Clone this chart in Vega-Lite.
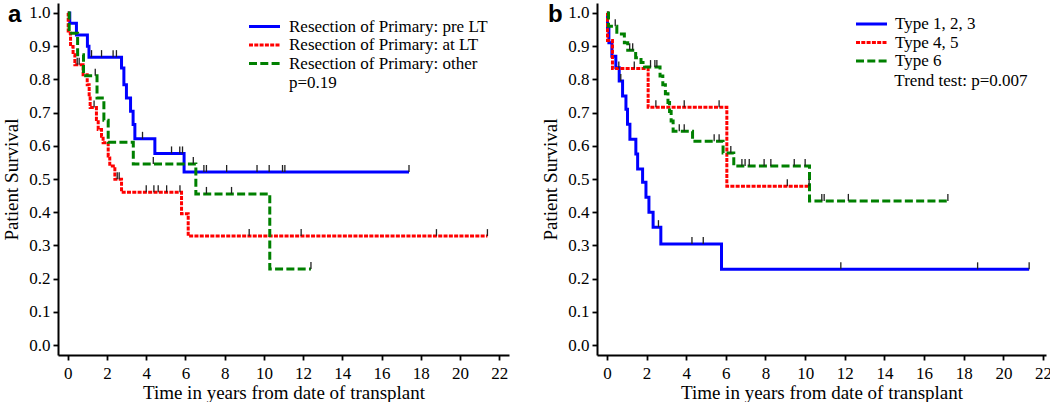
{
  "$schema": "https://vega.github.io/schema/vega-lite/v6.json",
  "padding": {"left": 2, "top": 2, "right": 0, "bottom": 0},
  "background": "white",
  "spacing": 88,
  "bounds": "flush",
  "config": {
    "font": "Liberation Serif",
    "view": {"stroke": null},
    "axis": {
      "grid": false,
      "domainColor": "black",
      "domainWidth": 2,
      "tickColor": "black",
      "tickWidth": 1.8,
      "tickSize": 5,
      "labelFont": "Liberation Serif",
      "labelFontSize": 17,
      "labelColor": "black",
      "labelPadding": 3,
      "labelOverlap": false,
      "titleFont": "Liberation Serif",
      "titleFontSize": 19,
      "titleFontWeight": "normal",
      "titleColor": "black"
    },
    "axisY": {"titlePadding": 7},
    "axisX": {"titlePadding": 2, "labelPadding": 5},
    "legend": {
      "labelFont": "Liberation Serif",
      "labelFontSize": 17,
      "labelColor": "black",
      "labelLimit": 400,
      "symbolType": "M-3.1,0H3.1",
      "symbolStrokeWidth": 3,
      "symbolSize": 100,
      "labelOffset": 16,
      "rowPadding": 0.5,
      "padding": 0
    }
  },
  "resolve": {"scale": {"color": "independent", "strokeDash": "independent", "x": "independent", "y": "independent"}},
  "datasets": {
    "a": [
      {"g": "Resection of Primary: pre LT", "t": 0, "s": 1, "c": 0},
      {"g": "Resection of Primary: pre LT", "t": 0.1, "s": 0.969, "c": 0},
      {"g": "Resection of Primary: pre LT", "t": 0.44, "s": 0.934, "c": 0},
      {"g": "Resection of Primary: pre LT", "t": 1.0, "s": 0.9, "c": 0},
      {"g": "Resection of Primary: pre LT", "t": 1.08, "s": 0.867, "c": 0},
      {"g": "Resection of Primary: pre LT", "t": 1.21, "s": 0.867, "c": 1},
      {"g": "Resection of Primary: pre LT", "t": 1.72, "s": 0.867, "c": 1},
      {"g": "Resection of Primary: pre LT", "t": 2.31, "s": 0.867, "c": 1},
      {"g": "Resection of Primary: pre LT", "t": 2.48, "s": 0.867, "c": 1},
      {"g": "Resection of Primary: pre LT", "t": 2.74, "s": 0.834, "c": 0},
      {"g": "Resection of Primary: pre LT", "t": 2.86, "s": 0.784, "c": 0},
      {"g": "Resection of Primary: pre LT", "t": 2.99, "s": 0.744, "c": 0},
      {"g": "Resection of Primary: pre LT", "t": 3.2, "s": 0.704, "c": 0},
      {"g": "Resection of Primary: pre LT", "t": 3.33, "s": 0.664, "c": 0},
      {"g": "Resection of Primary: pre LT", "t": 3.42, "s": 0.621, "c": 0},
      {"g": "Resection of Primary: pre LT", "t": 3.81, "s": 0.621, "c": 1},
      {"g": "Resection of Primary: pre LT", "t": 4.44, "s": 0.577, "c": 0},
      {"g": "Resection of Primary: pre LT", "t": 5.29, "s": 0.577, "c": 1},
      {"g": "Resection of Primary: pre LT", "t": 5.71, "s": 0.577, "c": 1},
      {"g": "Resection of Primary: pre LT", "t": 5.85, "s": 0.577, "c": 1},
      {"g": "Resection of Primary: pre LT", "t": 5.93, "s": 0.521, "c": 0},
      {"g": "Resection of Primary: pre LT", "t": 6.94, "s": 0.521, "c": 1},
      {"g": "Resection of Primary: pre LT", "t": 7.07, "s": 0.521, "c": 1},
      {"g": "Resection of Primary: pre LT", "t": 8.1, "s": 0.521, "c": 1},
      {"g": "Resection of Primary: pre LT", "t": 9.65, "s": 0.521, "c": 1},
      {"g": "Resection of Primary: pre LT", "t": 10.27, "s": 0.521, "c": 1},
      {"g": "Resection of Primary: pre LT", "t": 10.95, "s": 0.521, "c": 1},
      {"g": "Resection of Primary: pre LT", "t": 11.07, "s": 0.521, "c": 1},
      {"g": "Resection of Primary: pre LT", "t": 17.4, "s": 0.521, "c": 1},
      {"g": "Resection of Primary: at LT", "t": 0, "s": 1, "c": 0},
      {"g": "Resection of Primary: at LT", "t": 0.02, "s": 0.939, "c": 0},
      {"g": "Resection of Primary: at LT", "t": 0.14, "s": 0.899, "c": 0},
      {"g": "Resection of Primary: at LT", "t": 0.27, "s": 0.874, "c": 0},
      {"g": "Resection of Primary: at LT", "t": 0.36, "s": 0.844, "c": 0},
      {"g": "Resection of Primary: at LT", "t": 0.48, "s": 0.844, "c": 1},
      {"g": "Resection of Primary: at LT", "t": 0.58, "s": 0.844, "c": 1},
      {"g": "Resection of Primary: at LT", "t": 0.78, "s": 0.814, "c": 0},
      {"g": "Resection of Primary: at LT", "t": 0.99, "s": 0.784, "c": 0},
      {"g": "Resection of Primary: at LT", "t": 1.09, "s": 0.749, "c": 0},
      {"g": "Resection of Primary: at LT", "t": 1.14, "s": 0.715, "c": 0},
      {"g": "Resection of Primary: at LT", "t": 1.34, "s": 0.715, "c": 1},
      {"g": "Resection of Primary: at LT", "t": 1.46, "s": 0.679, "c": 0},
      {"g": "Resection of Primary: at LT", "t": 1.55, "s": 0.649, "c": 0},
      {"g": "Resection of Primary: at LT", "t": 1.72, "s": 0.629, "c": 0},
      {"g": "Resection of Primary: at LT", "t": 1.8, "s": 0.609, "c": 0},
      {"g": "Resection of Primary: at LT", "t": 2.06, "s": 0.569, "c": 0},
      {"g": "Resection of Primary: at LT", "t": 2.14, "s": 0.539, "c": 0},
      {"g": "Resection of Primary: at LT", "t": 2.4, "s": 0.499, "c": 0},
      {"g": "Resection of Primary: at LT", "t": 2.52, "s": 0.499, "c": 1},
      {"g": "Resection of Primary: at LT", "t": 2.62, "s": 0.499, "c": 1},
      {"g": "Resection of Primary: at LT", "t": 2.74, "s": 0.46, "c": 0},
      {"g": "Resection of Primary: at LT", "t": 4.0, "s": 0.46, "c": 1},
      {"g": "Resection of Primary: at LT", "t": 4.39, "s": 0.46, "c": 1},
      {"g": "Resection of Primary: at LT", "t": 4.61, "s": 0.46, "c": 1},
      {"g": "Resection of Primary: at LT", "t": 5.04, "s": 0.46, "c": 1},
      {"g": "Resection of Primary: at LT", "t": 5.72, "s": 0.46, "c": 1},
      {"g": "Resection of Primary: at LT", "t": 5.8, "s": 0.395, "c": 0},
      {"g": "Resection of Primary: at LT", "t": 6.14, "s": 0.328, "c": 0},
      {"g": "Resection of Primary: at LT", "t": 9.25, "s": 0.328, "c": 1},
      {"g": "Resection of Primary: at LT", "t": 11.9, "s": 0.328, "c": 1},
      {"g": "Resection of Primary: at LT", "t": 18.8, "s": 0.328, "c": 1},
      {"g": "Resection of Primary: at LT", "t": 21.4, "s": 0.328, "c": 1},
      {"g": "Resection of Primary: other", "t": 0, "s": 1, "c": 0},
      {"g": "Resection of Primary: other", "t": 0.07, "s": 0.939, "c": 0},
      {"g": "Resection of Primary: other", "t": 0.5, "s": 0.874, "c": 0},
      {"g": "Resection of Primary: other", "t": 0.8, "s": 0.811, "c": 0},
      {"g": "Resection of Primary: other", "t": 1.4, "s": 0.811, "c": 1},
      {"g": "Resection of Primary: other", "t": 1.49, "s": 0.744, "c": 0},
      {"g": "Resection of Primary: other", "t": 1.84, "s": 0.677, "c": 0},
      {"g": "Resection of Primary: other", "t": 2.06, "s": 0.611, "c": 0},
      {"g": "Resection of Primary: other", "t": 3.34, "s": 0.545, "c": 0},
      {"g": "Resection of Primary: other", "t": 4.36, "s": 0.545, "c": 1},
      {"g": "Resection of Primary: other", "t": 6.4, "s": 0.545, "c": 1},
      {"g": "Resection of Primary: other", "t": 6.53, "s": 0.455, "c": 0},
      {"g": "Resection of Primary: other", "t": 7.07, "s": 0.455, "c": 1},
      {"g": "Resection of Primary: other", "t": 8.35, "s": 0.455, "c": 1},
      {"g": "Resection of Primary: other", "t": 10.3, "s": 0.229, "c": 0},
      {"g": "Resection of Primary: other", "t": 12.4, "s": 0.229, "c": 1}
    ],
    "b": [
      {"g": "Type 1, 2, 3", "t": 0, "s": 1, "c": 0},
      {"g": "Type 1, 2, 3", "t": 0.03, "s": 0.955, "c": 0},
      {"g": "Type 1, 2, 3", "t": 0.1, "s": 0.91, "c": 0},
      {"g": "Type 1, 2, 3", "t": 0.25, "s": 0.87, "c": 0},
      {"g": "Type 1, 2, 3", "t": 0.45, "s": 0.835, "c": 0},
      {"g": "Type 1, 2, 3", "t": 0.62, "s": 0.795, "c": 0},
      {"g": "Type 1, 2, 3", "t": 0.7, "s": 0.795, "c": 1},
      {"g": "Type 1, 2, 3", "t": 0.79, "s": 0.75, "c": 0},
      {"g": "Type 1, 2, 3", "t": 0.96, "s": 0.71, "c": 0},
      {"g": "Type 1, 2, 3", "t": 1.04, "s": 0.665, "c": 0},
      {"g": "Type 1, 2, 3", "t": 1.16, "s": 0.62, "c": 0},
      {"g": "Type 1, 2, 3", "t": 1.46, "s": 0.575, "c": 0},
      {"g": "Type 1, 2, 3", "t": 1.55, "s": 0.53, "c": 0},
      {"g": "Type 1, 2, 3", "t": 1.8, "s": 0.49, "c": 0},
      {"g": "Type 1, 2, 3", "t": 1.97, "s": 0.445, "c": 0},
      {"g": "Type 1, 2, 3", "t": 2.12, "s": 0.4, "c": 0},
      {"g": "Type 1, 2, 3", "t": 2.33, "s": 0.355, "c": 0},
      {"g": "Type 1, 2, 3", "t": 2.6, "s": 0.355, "c": 1},
      {"g": "Type 1, 2, 3", "t": 2.72, "s": 0.304, "c": 0},
      {"g": "Type 1, 2, 3", "t": 4.29, "s": 0.304, "c": 1},
      {"g": "Type 1, 2, 3", "t": 4.86, "s": 0.304, "c": 1},
      {"g": "Type 1, 2, 3", "t": 5.78, "s": 0.228, "c": 0},
      {"g": "Type 1, 2, 3", "t": 11.8, "s": 0.228, "c": 1},
      {"g": "Type 1, 2, 3", "t": 18.7, "s": 0.228, "c": 1},
      {"g": "Type 1, 2, 3", "t": 21.3, "s": 0.228, "c": 1},
      {"g": "Type 4, 5", "t": 0, "s": 1, "c": 0},
      {"g": "Type 4, 5", "t": 0.03, "s": 0.917, "c": 0},
      {"g": "Type 4, 5", "t": 0.28, "s": 0.833, "c": 0},
      {"g": "Type 4, 5", "t": 0.6, "s": 0.833, "c": 1},
      {"g": "Type 4, 5", "t": 1.38, "s": 0.833, "c": 1},
      {"g": "Type 4, 5", "t": 2.08, "s": 0.716, "c": 0},
      {"g": "Type 4, 5", "t": 2.47, "s": 0.716, "c": 1},
      {"g": "Type 4, 5", "t": 3.9, "s": 0.716, "c": 1},
      {"g": "Type 4, 5", "t": 5.66, "s": 0.716, "c": 1},
      {"g": "Type 4, 5", "t": 6.05, "s": 0.478, "c": 0},
      {"g": "Type 4, 5", "t": 9.1, "s": 0.478, "c": 1},
      {"g": "Type 4, 5", "t": 10.2, "s": 0.478, "c": 1},
      {"g": "Type 6", "t": 0, "s": 1, "c": 0},
      {"g": "Type 6", "t": 0.08, "s": 0.96, "c": 0},
      {"g": "Type 6", "t": 0.42, "s": 0.96, "c": 1},
      {"g": "Type 6", "t": 0.5, "s": 0.937, "c": 0},
      {"g": "Type 6", "t": 0.88, "s": 0.91, "c": 0},
      {"g": "Type 6", "t": 1.05, "s": 0.888, "c": 0},
      {"g": "Type 6", "t": 1.15, "s": 0.888, "c": 1},
      {"g": "Type 6", "t": 1.3, "s": 0.888, "c": 1},
      {"g": "Type 6", "t": 1.45, "s": 0.865, "c": 0},
      {"g": "Type 6", "t": 1.72, "s": 0.851, "c": 0},
      {"g": "Type 6", "t": 1.9, "s": 0.837, "c": 0},
      {"g": "Type 6", "t": 2.2, "s": 0.837, "c": 1},
      {"g": "Type 6", "t": 2.42, "s": 0.837, "c": 1},
      {"g": "Type 6", "t": 2.52, "s": 0.837, "c": 1},
      {"g": "Type 6", "t": 2.68, "s": 0.81, "c": 0},
      {"g": "Type 6", "t": 2.82, "s": 0.784, "c": 0},
      {"g": "Type 6", "t": 2.95, "s": 0.757, "c": 0},
      {"g": "Type 6", "t": 3.08, "s": 0.73, "c": 0},
      {"g": "Type 6", "t": 3.16, "s": 0.703, "c": 0},
      {"g": "Type 6", "t": 3.24, "s": 0.675, "c": 0},
      {"g": "Type 6", "t": 3.34, "s": 0.644, "c": 0},
      {"g": "Type 6", "t": 3.65, "s": 0.644, "c": 1},
      {"g": "Type 6", "t": 3.9, "s": 0.644, "c": 1},
      {"g": "Type 6", "t": 4.32, "s": 0.614, "c": 0},
      {"g": "Type 6", "t": 5.41, "s": 0.614, "c": 1},
      {"g": "Type 6", "t": 5.66, "s": 0.614, "c": 1},
      {"g": "Type 6", "t": 5.86, "s": 0.578, "c": 0},
      {"g": "Type 6", "t": 6.25, "s": 0.578, "c": 1},
      {"g": "Type 6", "t": 6.4, "s": 0.539, "c": 0},
      {"g": "Type 6", "t": 6.81, "s": 0.539, "c": 1},
      {"g": "Type 6", "t": 6.97, "s": 0.539, "c": 1},
      {"g": "Type 6", "t": 7.18, "s": 0.539, "c": 1},
      {"g": "Type 6", "t": 7.93, "s": 0.539, "c": 1},
      {"g": "Type 6", "t": 8.27, "s": 0.539, "c": 1},
      {"g": "Type 6", "t": 9.45, "s": 0.539, "c": 1},
      {"g": "Type 6", "t": 10.0, "s": 0.539, "c": 1},
      {"g": "Type 6", "t": 10.22, "s": 0.434, "c": 0},
      {"g": "Type 6", "t": 10.84, "s": 0.434, "c": 1},
      {"g": "Type 6", "t": 10.96, "s": 0.434, "c": 1},
      {"g": "Type 6", "t": 12.18, "s": 0.434, "c": 1},
      {"g": "Type 6", "t": 17.2, "s": 0.434, "c": 1}
    ]
  },
  "hconcat": [
    {
      "width": 451,
      "height": 352,
      "encoding": {
        "x": {"field": "t", "type": "quantitative", "scale": {"domain": [-0.5, 22.5], "nice": false, "zero": false},
              "axis": {"values": [0, 2, 4, 6, 8, 10, 12, 14, 16, 18, 20, 22], "labelOverlap": false, "title": "Time in years from date of transplant"}},
        "y": {"field": "s", "type": "quantitative", "scale": {"domain": [-0.03, 1.03], "nice": false, "zero": false},
              "axis": {"values": [0, 0.1, 0.2, 0.3, 0.4, 0.5, 0.6, 0.7, 0.8, 0.9, 1.0], "format": ".1f", "labelOverlap": false, "tickCount": 11, "title": "Patient Survival"}}
      },
      "layer": [
        {
          "data": {"name": "a"},
          "mark": {"type": "line", "interpolate": "step-after", "strokeWidth": 3},
          "encoding": {
            "color": {"field": "g", "type": "nominal",
                      "scale": {"domain": ["Resection of Primary: pre LT", "Resection of Primary: at LT", "Resection of Primary: other"], "range": ["#0000ff", "#ff0000", "#008000"]},
                      "legend": {"title": null, "orient": "none", "legendX": 198, "legendY": 15}},
            "strokeDash": {"field": "g", "type": "nominal",
                      "scale": {"domain": ["Resection of Primary: pre LT", "Resection of Primary: at LT", "Resection of Primary: other"], "range": [[1, 0], [4, 1.3], [8, 3.3]]},
                      "legend": {"title": null, "orient": "none", "legendX": 198, "legendY": 15}}
          }
        },
        {
          "data": {"name": "a"},
          "transform": [{"filter": "datum.c == 1"}],
          "mark": {"type": "tick", "orient": "vertical", "size": 7, "thickness": 1.3, "color": "#222222", "yOffset": -3.5, "opacity": 1}
        },
        {
          "data": {"values": [{"t": 11.28, "s": 0.79, "label": "p=0.19"}]},
          "mark": {"type": "text", "align": "left", "baseline": "middle", "font": "Liberation Serif", "fontSize": 17, "color": "black"},
          "encoding": {"text": {"field": "label"}}
        },
        {
          "data": {"values": [{"t": -3.05, "s": 0.973, "label": "a"}]},
          "mark": {"type": "text", "align": "left", "baseline": "alphabetic", "font": "Liberation Sans", "fontSize": 24, "fontWeight": "bold", "color": "black"},
          "encoding": {"text": {"field": "label"}}
        }
      ]
    },
    {
      "width": 449,
      "height": 352,
      "encoding": {
        "x": {"field": "t", "type": "quantitative", "scale": {"domain": [-0.5, 22.15], "nice": false, "zero": false},
              "axis": {"values": [0, 2, 4, 6, 8, 10, 12, 14, 16, 18, 20, 22], "labelOverlap": false, "title": "Time in years from date of transplant"}},
        "y": {"field": "s", "type": "quantitative", "scale": {"domain": [-0.03, 1.03], "nice": false, "zero": false},
              "axis": {"values": [0, 0.1, 0.2, 0.3, 0.4, 0.5, 0.6, 0.7, 0.8, 0.9, 1.0], "format": ".1f", "labelOverlap": false, "tickCount": 11, "title": "Patient Survival"}}
      },
      "layer": [
        {
          "data": {"name": "b"},
          "mark": {"type": "line", "interpolate": "step-after", "strokeWidth": 3},
          "encoding": {
            "color": {"field": "g", "type": "nominal",
                      "scale": {"domain": ["Type 1, 2, 3", "Type 4, 5", "Type 6"], "range": ["#0000ff", "#ff0000", "#008000"]},
                      "legend": {"title": null, "orient": "none", "legendX": 266, "legendY": 12.5, "labelOffset": 15}},
            "strokeDash": {"field": "g", "type": "nominal",
                      "scale": {"domain": ["Type 1, 2, 3", "Type 4, 5", "Type 6"], "range": [[1, 0], [4, 1.3], [8, 3.3]]},
                      "legend": {"title": null, "orient": "none", "legendX": 266, "legendY": 12.5, "labelOffset": 15}}
          }
        },
        {
          "data": {"name": "b"},
          "transform": [{"filter": "datum.c == 1"}],
          "mark": {"type": "tick", "orient": "vertical", "size": 7, "thickness": 1.3, "color": "#222222", "yOffset": -3.5, "opacity": 1}
        },
        {
          "data": {"values": [{"t": 14.5, "s": 0.796, "label": "Trend test: p=0.007"}]},
          "mark": {"type": "text", "align": "left", "baseline": "middle", "font": "Liberation Serif", "fontSize": 17, "color": "black"},
          "encoding": {"text": {"field": "label"}}
        },
        {
          "data": {"values": [{"t": -2.97, "s": 0.973, "label": "b"}]},
          "mark": {"type": "text", "align": "left", "baseline": "alphabetic", "font": "Liberation Sans", "fontSize": 24, "fontWeight": "bold", "color": "black"},
          "encoding": {"text": {"field": "label"}}
        }
      ]
    }
  ]
}
